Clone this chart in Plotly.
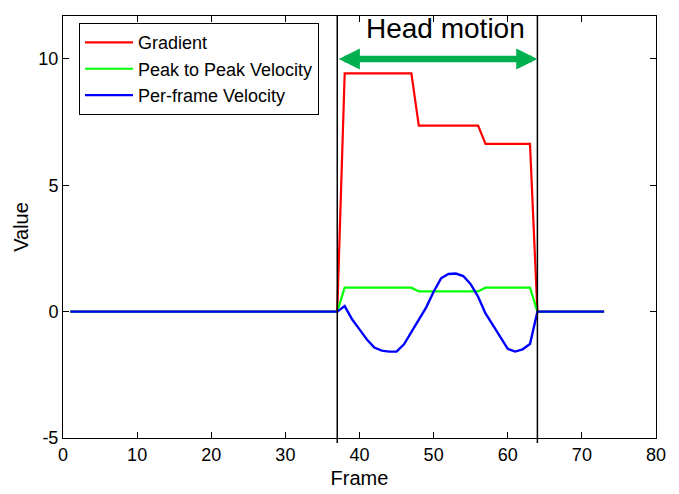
import plotly.graph_objects as go

frames = list(range(1, 74))

gradient = [0.0] * 37 + [9.43] * 10 + [7.36] * 9 + [6.64] * 7 + [0.0] * 10
p2p_velocity = [0.0] * 37 + [0.95] * 10 + [0.80] * 9 + [0.95] * 7 + [0.0] * 10
perframe_velocity = ([0.0] * 37 +
                     [0.22, -0.30, -0.70, -1.10, -1.42, -1.54, -1.58, -1.58, -1.29, -0.79,
                      -0.30, 0.17, 0.79, 1.32, 1.49, 1.51, 1.41, 1.09, 0.59, -0.07,
                      -0.53, -1.01, -1.47, -1.58, -1.49, -1.28] +
                     [0.0] * 10)

motion_start = 37
motion_end = 64
arrow_level = 10
x_ticks = [0, 10, 20, 30, 40, 50, 60, 70, 80]
y_ticks = [-5, 0, 5, 10]
y_tick_text = ["-5", "0", "5", "10"]

FONT = "Liberation Sans, Arial, Helvetica, sans-serif"

fig = go.Figure()
fig.add_trace(go.Scatter(x=frames, y=gradient, mode="lines", name="Gradient",
                         line=dict(color="#ff0000", width=2.2)))
fig.add_trace(go.Scatter(x=frames, y=p2p_velocity, mode="lines", name="Peak to Peak Velocity",
                         line=dict(color="#00ff00", width=2.2)))
fig.add_trace(go.Scatter(x=frames, y=perframe_velocity, mode="lines", name="Per-frame Velocity",
                         line=dict(color="#0000ff", width=2.4)))

for xv in (motion_start, motion_end):
    fig.add_shape(type="line", xref="x", yref="paper", x0=xv, x1=xv, y0=-0.012, y1=1,
                  line=dict(color="black", width=1.5))

fig.add_annotation(x=motion_end, y=arrow_level, ax=motion_start, ay=arrow_level,
                   xref="x", yref="y", axref="x", ayref="y", text="",
                   showarrow=True, arrowside="end+start", arrowhead=2, startarrowhead=2,
                   arrowsize=0.65, startarrowsize=0.65, arrowwidth=6.5, arrowcolor="#00b050",
                   standoff=0, startstandoff=0)
fig.add_annotation(x=51.55, y=11.19, xref="x", yref="y", text="Head motion",
                   showarrow=False, font=dict(family=FONT, size=28, color="black"))

axis_common = dict(showline=True, linecolor="black", linewidth=1, mirror="ticks",
                   ticks="inside", ticklen=6, tickcolor="black", showgrid=False,
                   zeroline=False, automargin=False,
                   tickfont=dict(family=FONT, size=18, color="black"))

fig.update_xaxes(range=[0, 80], tickvals=x_ticks,
                 title=dict(text="Frame", font=dict(family=FONT, size=20, color="black"), standoff=7),
                 **axis_common)
fig.update_yaxes(range=[-5, 11.7], tickvals=y_ticks, ticktext=y_tick_text,
                 title=dict(text="Value", font=dict(family=FONT, size=20, color="black"), standoff=4),
                 **axis_common)

fig.update_layout(
    width=679, height=494,
    margin=dict(l=63, r=23, t=16, b=56),
    paper_bgcolor="white", plot_bgcolor="white",
    font=dict(family=FONT, color="black"),
    legend=dict(x=0.027, y=0.983, xanchor="left", yanchor="top",
                bgcolor="white", bordercolor="black", borderwidth=1,
                font=dict(family=FONT, size=18, color="black"),
                tracegroupgap=0, itemwidth=48),
    showlegend=True,
)

fig.write_html("out.html")
